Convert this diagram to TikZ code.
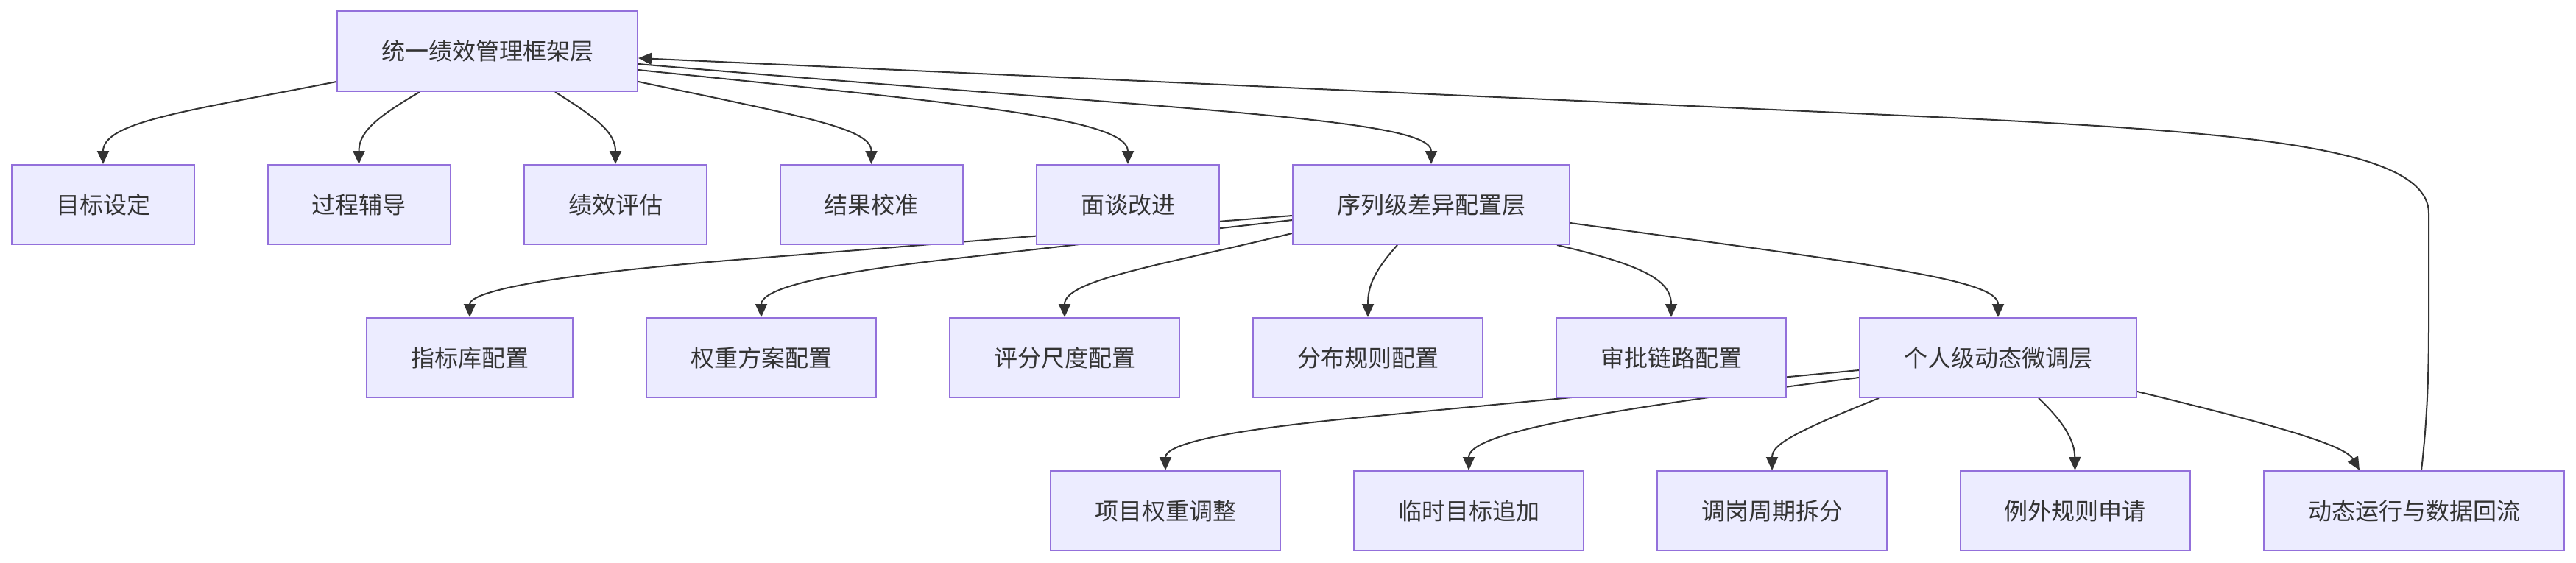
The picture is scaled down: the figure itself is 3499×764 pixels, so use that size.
\documentclass[tikz,border=0pt]{standalone}
\usepackage{fontspec}
\newfontfamily\cjk{Noto Sans CJK SC}
\usetikzlibrary{arrows.meta,backgrounds}
\definecolor{nodefill}{HTML}{ECECFF}
\definecolor{nodeline}{HTML}{9370DB}
\definecolor{edgecol}{HTML}{333333}
\begin{document}
\begin{tikzpicture}[x=1pt,y=-1pt,
  box/.style={draw=nodeline,fill=nodefill,line width=2pt,inner sep=0pt,minimum height=108pt,text=edgecol,font=\cjk\fontsize{32}{38}\selectfont},
  link/.style={draw=edgecol,line width=2pt,-{Triangle[length=18pt,width=16pt]}}]
\useasboundingbox (0,0) rectangle (3499,764);
% nodes
\node[box,minimum width=408pt,minimum height=109pt] (top) at (662,69.5) {统一绩效管理框架层};
\node[box,minimum width=248pt] (a1) at (140,278) {目标设定};
\node[box,minimum width=248pt] (a2) at (487.5,278) {过程辅导};
\node[box,minimum width=248pt] (a3) at (836,278) {绩效评估};
\node[box,minimum width=248pt] (a4) at (1183.5,278) {结果校准};
\node[box,minimum width=248pt] (a5) at (1532,278) {面谈改进};
\node[box,minimum width=376pt] (s) at (1944,278) {序列级差异配置层};
\node[box,minimum width=280pt] (b1) at (638,486) {指标库配置};
\node[box,minimum width=312pt] (b2) at (1034,486) {权重方案配置};
\node[box,minimum width=312pt] (b3) at (1446,486) {评分尺度配置};
\node[box,minimum width=312pt] (b4) at (1858,486) {分布规则配置};
\node[box,minimum width=312pt] (b5) at (2270,486) {审批链路配置};
\node[box,minimum width=376pt] (p) at (2714,486) {个人级动态微调层};
\node[box,minimum width=312pt] (c1) at (1583,694) {项目权重调整};
\node[box,minimum width=312pt] (c2) at (1995,694) {临时目标追加};
\node[box,minimum width=312pt] (c3) at (2407,694) {调岗周期拆分};
\node[box,minimum width=312pt] (c4) at (2818.5,694) {例外规则申请};
\node[box,minimum width=408pt] (d) at (3279,694) {动态运行与数据回流};
% edges
\begin{pgfonlayer}{background}
\draw[link] ([yshift=-41.5pt]top.west) .. controls (260,150) and (140,165) .. (a1.north);
\draw[link] ([xshift=-92pt]top.south) .. controls (510,160) and (487.5,180) .. (a2.north);
\draw[link] ([xshift=92pt]top.south) .. controls (810,160) and (836,180) .. (a3.north);
\draw[link] ([yshift=-41.5pt]top.east) .. controls (1100,160) and (1183.5,175) .. (a4.north);
\draw[link] ([yshift=-25.5pt]top.east) .. controls (1300,140) and (1532,160) .. (a5.north);
\draw[link] ([yshift=-17.5pt]top.east) .. controls (1600,150) and (1944,160) .. (s.north);
\draw[link] ([xshift=10pt]d.north) .. controls (3298,560) and (3299,500) .. (3299,430) -- (3299,290) .. controls (3299,200) and (3050,180) .. (2650,160) -- ([yshift=-9.5pt]top.east);
\draw[link] ([yshift=-15pt]s.west) -- (1000,353) .. controls (760,372) and (638,395) .. (b1.north);
\draw[link] ([yshift=-21pt]s.west) -- (1300,351) .. controls (1100,373) and (1034,395) .. (b2.north);
\draw[link] ([yshift=-39pt]s.west) .. controls (1580,360) and (1446,380) .. (b3.north);
\draw[link] ([xshift=-46pt]s.south) .. controls (1865,370) and (1858,390) .. (b4.north);
\draw[link] ([xshift=171pt]s.south) .. controls (2230,360) and (2270,380) .. (b5.north);
\draw[link] ([yshift=-25pt]s.east) .. controls (2550,360) and (2714,380) .. (p.north);
\draw[link] ([yshift=-17pt]p.west) -- (1850,567) .. controls (1650,586) and (1583,605) .. (c1.north);
\draw[link] ([yshift=-27pt]p.west) .. controls (2150,560) and (1995,590) .. (c2.north);
\draw[link] ([xshift=-162pt]p.south) .. controls (2430,590) and (2407,605) .. (c3.north);
\draw[link] ([xshift=55pt]p.south) .. controls (2805,575) and (2818,600) .. (c4.north);
\draw[link] ([yshift=-46pt]p.east) .. controls (3100,580) and (3185,605) .. ([xshift=-74pt]d.north);
\end{pgfonlayer}
\end{tikzpicture}
\end{document}
